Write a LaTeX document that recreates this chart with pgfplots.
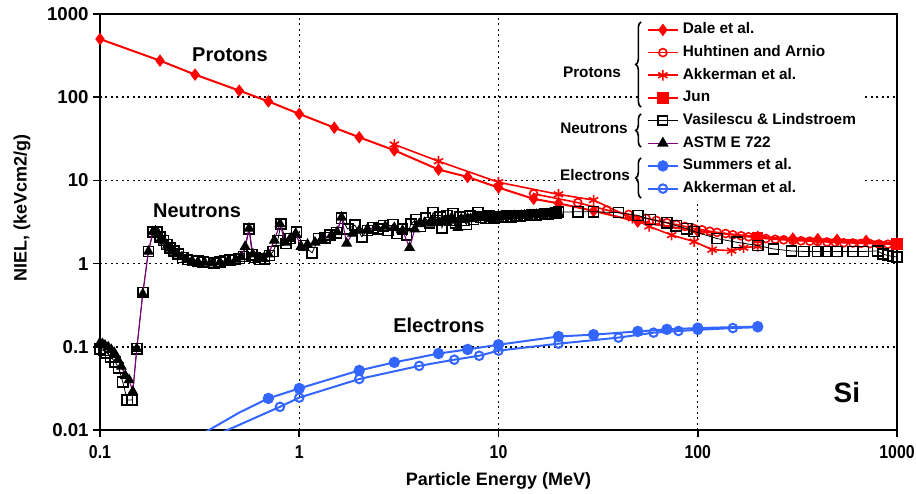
\documentclass[border=0pt]{standalone}
\usepackage{pgfplots}
\pgfplotsset{compat=1.18}
\usepackage{graphicx}
\usepackage{fontspec}
\setmainfont{Liberation Sans}
\usetikzlibrary{decorations.pathreplacing}

\definecolor{pred}{RGB}{255,0,0}
\definecolor{eblue}{RGB}{51,102,255}
\definecolor{astm}{RGB}{128,0,128}

% ---------- protons ----------
\pgfplotstableread{
E     niel
0.1   500
0.2   275
0.3   187
0.5   120
0.7   89
1     63
1.5   43
2     33
3     23
5     13.5
7     11
10    8.2
15    6.0
20    5.3
30    4.3
50    3.2
100   2.45
200   2.1
300   2.0
400   1.97
500   1.93
700   1.88
1000  1.75
}\dale

\pgfplotstableread{
E     niel
15    6.9
25    5.4
35    4.4
45    3.9
55    3.5
62    3.3
70    3.1
78    2.95
86    2.8
95    2.65
105   2.55
115   2.45
125   2.37
138   2.3
150   2.22
165   2.16
180   2.1
200   2.05
220   2.0
245   1.96
270   1.93
300   1.9
330   1.88
365   1.86
400   1.84
445   1.82
490   1.8
540   1.78
600   1.77
660   1.75
730   1.74
810   1.72
900   1.71
1000  1.7
}\huhtinen

\pgfplotstableread{
E     niel
3     27
5     17
10    9.5
20    6.8
30    5.8
47    3.5
57    2.8
74    2.2
96    1.84
118   1.47
148   1.43
170   1.55
200   1.62
}\akkp

\pgfplotstableread{
E     niel
200   2.05
1000  1.72
}\jun

% ---------- neutrons ----------
\pgfplotstableread{
E      niel
0.100  0.095
0.104  0.090
0.108  0.085
0.113  0.076
0.119  0.066
0.124  0.056
0.130  0.038
0.137  0.023
0.145  0.023
0.153  0.095
0.164  0.45
0.175  1.40
0.185  2.40
0.193  2.40
0.200  2.10
0.208  1.90
0.216  1.70
0.225  1.55
0.235  1.42
0.247  1.30
0.260  1.18
0.275  1.12
0.292  1.09
0.310  1.07
0.330  1.05
0.350  1.03
0.375  1.02
0.400  1.05
0.425  1.09
0.450  1.10
0.475  1.12
0.500  1.15
0.525  1.22
0.560  2.60
0.580  1.28
0.600  1.18
0.635  1.12
0.670  1.14
0.710  1.25
0.740  1.40
0.780  1.90
0.810  3.00
0.860  1.75
0.900  2.00
0.970  2.40
1.050  1.65
1.160  1.35
1.250  2.00
1.350  2.05
1.430  2.20
1.540  2.35
1.630  3.50
1.750  2.60
1.900  2.90
2.060  2.10
2.200  2.50
2.340  2.70
2.500  2.60
2.650  2.85
2.800  2.50
2.950  2.95
3.100  2.30
3.300  2.60
3.450  2.20
3.650  3.00
3.850  3.40
4.050  2.80
4.300  3.50
4.500  3.10
4.700  4.10
4.900  3.30
5.100  3.60
5.200  2.70
5.500  3.80
5.700  3.30
5.900  4.00
6.100  3.10
6.400  3.60
6.700  3.30
6.900  2.95
7.200  3.70
7.500  3.40
7.900  4.10
8.200  3.60
8.600  3.50
9.000  3.75
9.500  3.55
10.00  3.65
10.50  3.60
11.00  3.70
11.60  3.65
12.20  3.75
12.80  3.70
13.40  3.80
14.00  3.80
14.70  3.85
15.40  3.85
16.20  3.90
17.00  3.95
17.80  3.95
18.60  4.00
19.40  4.05
20.00  4.15
25.0   4.20
30.0   4.20
40.0   4.10
50.0   3.80
58.0   3.40
70.0   3.10
78.0   2.86
88.0   2.63
96.0   2.43
125    2.00
158    1.80
200    1.65
240    1.50
295    1.42
340    1.40
400    1.40
440    1.40
500    1.40
600    1.40
680    1.40
800    1.42
850    1.30
900    1.25
950    1.22
1000   1.20
}\vasilescu

\pgfplotstableread{
E      niel
0.100  0.112
0.103  0.108
0.106  0.104
0.110  0.099
0.114  0.092
0.118  0.085
0.123  0.070
0.128  0.058
0.134  0.045
0.140  0.040
0.146  0.029
0.153  0.095
0.164  0.43
0.175  1.40
0.184  2.40
0.190  2.45
0.196  2.30
0.203  2.05
0.210  1.85
0.218  1.65
0.226  1.52
0.235  1.40
0.245  1.30
0.258  1.20
0.272  1.13
0.290  1.08
0.310  1.05
0.335  1.03
0.365  1.01
0.400  1.04
0.440  1.08
0.480  1.12
0.510  1.20
0.535  1.60
0.560  2.65
0.585  1.30
0.620  1.15
0.660  1.15
0.700  1.30
0.750  1.90
0.800  3.00
0.850  1.80
0.900  2.00
0.960  2.30
1.020  1.60
1.100  1.70
1.200  1.80
1.300  2.00
1.450  2.20
1.550  2.40
1.630  3.60
1.730  1.75
1.850  2.30
2.000  2.50
2.200  2.60
2.450  2.70
2.700  2.80
3.000  2.70
3.300  2.50
3.580  1.55
3.800  2.60
4.00   3.00
4.25   3.10
4.50   3.05
4.75   3.20
5.00   3.15
5.25   3.30
5.50   3.20
5.75   3.40
6.00   3.30
6.25   2.70
6.50   3.45
6.75   3.40
7.00   3.50
7.25   3.45
7.50   3.50
7.75   3.55
8.00   3.60
8.25   3.55
8.50   3.60
8.75   3.60
9.00   3.62
9.25   3.58
9.50   3.65
9.75   3.62
10.00  3.60
10.25  3.66
10.50  3.70
10.75  3.68
11.00  3.70
11.50  3.72
12.00  3.75
12.50  3.74
13.00  3.78
13.50  3.80
14.00  3.82
14.50  3.84
15.00  3.85
15.50  3.88
16.00  3.90
16.50  3.90
17.00  3.93
17.50  3.95
18.00  3.97
18.50  4.00
19.00  4.00
19.50  4.03
20.00  4.05
}\astm

% ---------- electrons ----------
\pgfplotstableread{
E     niel
0.3   0.008
0.5   0.0162
0.7   0.024
1     0.0316
2     0.052
3     0.065
5     0.083
7     0.093
10    0.106
20    0.133
30    0.140
50    0.153
70    0.162
100   0.168
200   0.175
}\summers

\pgfplotstableread{
E     niel
0.4   0.0091
0.6   0.014
0.8   0.019
1     0.0245
2     0.041
4     0.059
6     0.070
8     0.078
10    0.090
20    0.109
40    0.129
60    0.148
80    0.155
100   0.160
150   0.168
200   0.172
}\akke

\begin{document}
\begin{tikzpicture}
\path[use as bounding box] (-75pt,-47.25pt) rectangle (612pt,322.5pt);
\begin{axis}[
  at={(0pt,0pt)}, anchor=south west,
  scale only axis, width=597.75pt, height=312pt,
  xmode=log, ymode=log,
  xmin=0.1, xmax=1000, ymin=0.01, ymax=1000,
  xtick={0.1,1,10,100,1000},
  xticklabels={\scalebox{0.85}[1]{0.1},\scalebox{0.85}[1]{1},\scalebox{0.85}[1]{10},\scalebox{0.85}[1]{100},\scalebox{0.85}[1]{1000}},
  ytick={0.01,0.1,1,10,100,1000},
  yticklabels={0.01,0.1,1,10,100,1000},
  minor tick length=0pt,
  tick pos=left, tick align=outside, major tick length=5pt,
  tick style={black, line width=1.2pt},
  axis line style={black, line width=2.2pt},
  grid=major,
  major grid style={black, line width=1.1pt, dash pattern=on 1.5pt off 2.6pt},
  /pgf/number format/assume math mode=true,
  tick label style={font=\bfseries\fontsize{14}{16}\selectfont},
  xticklabel style={yshift=-3pt},
  xlabel={Particle Energy (MeV)},
  ylabel={NIEL, (keVcm2/g)},
  label style={font=\bfseries\fontsize{13.5}{16}\selectfont},
  xlabel style={at={(axis description cs:0.5,0)}, anchor=center, yshift=-38pt},
  ylabel style={at={(axis description cs:0,0.534)}, anchor=center, yshift=58.5pt},
  clip mode=individual,
  legend cell align=left,
  legend image code/.code={\draw[mark repeat=2,mark phase=2,#1] plot coordinates {(0pt,0pt) (11.25pt,0pt) (22.5pt,0pt)};},
  legend style={at={(axis description cs:0.6775,0.9928)}, anchor=north west,
    fill=white, draw=none, inner xsep=5pt, inner ysep=3pt,
    row sep=4pt, column sep=2pt,
    font=\bfseries\fontsize{11.5}{13}\selectfont,
    nodes={inner sep=1pt, text height=8.5pt, text depth=2.5pt}},
]
% legend entries, grouped by particle
\addlegendimage{pred, line width=1.5pt, mark=diamond*, mark size=3.5pt}
\addlegendentry{Dale et al.}
\addlegendimage{pred, line width=1.2pt, mark=o, mark size=3pt, mark options={fill=white}}
\addlegendentry{Huhtinen and Arnio}
\addlegendimage{pred, line width=1.2pt, mark=asterisk, mark size=4pt}
\addlegendentry{Akkerman et al.}
\addlegendimage{pred, line width=1.5pt, mark=square*, mark size=3.5pt}
\addlegendentry{Jun}
\addlegendimage{black, line width=1pt, mark=square, mark size=3.5pt, mark options={fill=white, line width=1.2pt}}
\addlegendentry{Vasilescu \& Lindstroem}
\addlegendimage{astm, line width=1pt, mark=triangle*, mark size=4pt, mark options={black}}
\addlegendentry{ASTM E 722}
\addlegendimage{eblue, line width=1.5pt, mark=*, mark size=3.5pt}
\addlegendentry{Summers et al.}
\addlegendimage{eblue, line width=1.5pt, mark=o, mark size=3.2pt, mark options={fill=white}}
\addlegendentry{Akkerman et al.}

% electrons
\addplot[forget plot, eblue, line width=1.5pt, mark=*, mark size=3.5pt, mark indices={2,...,15}] table[x=E,y=niel] {\summers};
\addplot[forget plot, eblue, line width=1.5pt, mark=o, mark size=3.2pt, mark options={fill=white}, mark indices={2,...,16}] table[x=E,y=niel] {\akke};

% protons
\addplot[forget plot, pred, line width=1.5pt, mark=diamond*, mark size=3.5pt] table[x=E,y=niel] {\dale};
\addplot[forget plot, pred, line width=1.2pt, mark=o, mark size=3pt, mark options={fill=white}] table[x=E,y=niel] {\huhtinen};
\addplot[forget plot, pred, line width=1.2pt, mark=asterisk, mark size=4pt] table[x=E,y=niel] {\akkp};
\addplot[forget plot, pred, line width=1.5pt, mark=square*, mark size=3.5pt] table[x=E,y=niel] {\jun};

% neutrons
\addplot[forget plot, black, line width=0.6pt, mark=square, mark size=3.8pt, mark options={fill=white, line width=1.2pt}] table[x=E,y=niel] {\vasilescu};
\addplot[forget plot, astm, line width=0.8pt, mark=triangle*, mark size=4pt, mark options={black}] table[x=E,y=niel] {\astm};

% particle labels
\node[font=\bfseries\fontsize{15}{18}\selectfont] at (axis cs:0.449,325) {Protons};
\node[font=\bfseries\fontsize{15}{18}\selectfont] at (axis cs:0.307,4.34) {Neutrons};
\node[font=\bfseries\fontsize{15}{18}\selectfont] at (axis cs:5.02,0.18) {Electrons};
\node[font=\bfseries\fontsize{21}{24}\selectfont] at (axis cs:560,0.028) {Si};
\end{axis}

% braces grouping the legend entries
\begin{scope}[line width=1.2pt, decoration={brace, amplitude=4pt}]
  \draw[decorate] (405.75pt,242.25pt) -- (405.75pt,306pt);
  \draw[decorate] (405.75pt,212.25pt) -- (405.75pt,237pt);
  \draw[decorate] (405.75pt,174pt) -- (405.75pt,204pt);
\end{scope}
\begin{scope}[font=\bfseries\fontsize{11.5}{13}\selectfont]
  \node[fill=white, inner sep=2pt] at (369pt,268.5pt) {Protons};
  \node[fill=white, inner sep=2pt] at (370.5pt,226.5pt) {Neutrons};
  \node[fill=white, inner sep=2pt] at (371.25pt,191.25pt) {Electrons};
\end{scope}
\end{tikzpicture}
\end{document}
